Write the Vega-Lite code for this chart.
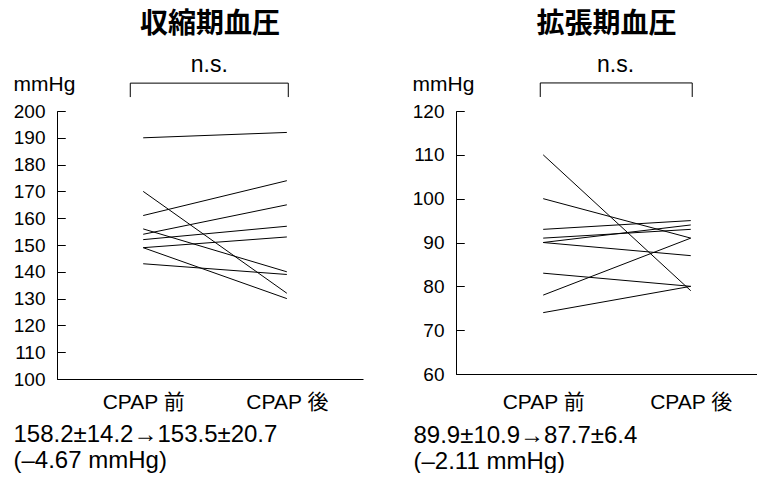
{
  "$schema": "https://vega.github.io/schema/vega-lite/v6.json",
  "background": "white",
  "padding": {"left": 13, "top": 10, "right": 0, "bottom": 0},
  "config": {
    "view": {"stroke": null},
    "font": "Liberation Sans, Noto Sans CJK JP",
    "concat": {"spacing": 49},
    "axis": {"domainColor": "black", "tickColor": "black", "labelColor": "black", "titleColor": "black", "titleFontWeight": "normal", "labelOverlap": false, "labelFont": "Liberation Sans, Noto Sans CJK JP", "titleFont": "Liberation Sans, Noto Sans CJK JP"}
  },
  "datasets": {
    "sys": [
      {"id": 1, "t": 0, "bp": 190}, {"id": 1, "t": 1, "bp": 192},
      {"id": 2, "t": 0, "bp": 170}, {"id": 2, "t": 1, "bp": 132},
      {"id": 3, "t": 0, "bp": 161}, {"id": 3, "t": 1, "bp": 174},
      {"id": 4, "t": 0, "bp": 154}, {"id": 4, "t": 1, "bp": 165},
      {"id": 5, "t": 0, "bp": 156}, {"id": 5, "t": 1, "bp": 140},
      {"id": 6, "t": 0, "bp": 152}, {"id": 6, "t": 1, "bp": 157},
      {"id": 7, "t": 0, "bp": 149}, {"id": 7, "t": 1, "bp": 153},
      {"id": 8, "t": 0, "bp": 149}, {"id": 8, "t": 1, "bp": 130},
      {"id": 9, "t": 0, "bp": 143}, {"id": 9, "t": 1, "bp": 139}
    ],
    "dia": [
      {"id": 1, "t": 0, "bp": 110}, {"id": 1, "t": 1, "bp": 79},
      {"id": 2, "t": 0, "bp": 100}, {"id": 2, "t": 1, "bp": 91},
      {"id": 3, "t": 0, "bp": 93}, {"id": 3, "t": 1, "bp": 95},
      {"id": 4, "t": 0, "bp": 91}, {"id": 4, "t": 1, "bp": 93},
      {"id": 5, "t": 0, "bp": 90}, {"id": 5, "t": 1, "bp": 94},
      {"id": 6, "t": 0, "bp": 90}, {"id": 6, "t": 1, "bp": 87},
      {"id": 7, "t": 0, "bp": 83}, {"id": 7, "t": 1, "bp": 80},
      {"id": 8, "t": 0, "bp": 78}, {"id": 8, "t": 1, "bp": 91},
      {"id": 9, "t": 0, "bp": 74}, {"id": 9, "t": 1, "bp": 80}
    ],
    "bracketSys": [
      {"t": -0.09, "t2": 1.01, "bp": 210.4, "bp2": 210.4},
      {"t": -0.09, "t2": -0.09, "bp": 210.4, "bp2": 205.2},
      {"t": 1.01, "t2": 1.01, "bp": 210.4, "bp2": 205.2}
    ],
    "bracketDia": [
      {"t": -0.02, "t2": 1.01, "bp": 126.4, "bp2": 126.4},
      {"t": -0.02, "t2": -0.02, "bp": 126.4, "bp2": 123.2},
      {"t": 1.01, "t2": 1.01, "bp": 126.4, "bp2": 123.2}
    ],
    "nsSys": [{"t": 0.46, "bp": 214.5, "label": "n.s."}],
    "nsDia": [{"t": 0.49, "bp": 128.9, "label": "n.s."}]
  },
  "hconcat": [
    {
      "width": 306,
      "height": 268,
      "title": {"text": "収縮期血圧", "font": "Noto Sans CJK JP", "fontSize": 28, "fontWeight": "bold", "color": "black", "anchor": "middle", "frame": "group", "offset": 15},
      "encoding": {
        "x": {"field": "t", "type": "quantitative", "scale": {"domain": [-0.6, 1.53], "nice": false, "zero": false},
          "axis": {"values": [0, 1], "labelExpr": "datum.value == 0 ? 'CPAP 前' : 'CPAP 後'", "ticks": false, "grid": false, "labelFontSize": 21, "labelPadding": 12, "labelFlush": false, "labelOverlap": false,
            "title": ["158.2±14.2→153.5±20.7", "(–4.67 mmHg)"], "titleFontSize": 24, "titleAlign": "left", "titleAnchor": "start", "titleBaseline": "alphabetic", "titleX": -44, "titleY": 62, "titleLineHeight": 26}},
        "y": {"field": "bp", "type": "quantitative", "scale": {"domain": [100, 200], "nice": false, "zero": false},
          "axis": {"values": [100, 110, 120, 130, 140, 150, 160, 170, 180, 190, 200], "ticks": true, "tickSize": -8, "tickWidth": 1, "grid": true, "gridColor": "black", "gridOpacity": 1, "gridWidth": 1, "gridDash": [8, 1000], "labelPadding": 20, "labelFontSize": 19, "labelOverlap": false, "labelFlush": false,
            "title": "mmHg", "titleAngle": 0, "titleAlign": "left", "titleBaseline": "alphabetic", "titleX": -44, "titleY": -21, "titleFontSize": 21}}
      },
      "layer": [
        {
          "data": {"name": "sys"},
          "mark": {"type": "line", "color": "black", "strokeWidth": 1},
          "encoding": {"detail": {"field": "id"}}
        },
        {
          "data": {"name": "bracketSys"},
          "mark": {"type": "rule", "color": "black", "strokeWidth": 1},
          "encoding": {"x2": {"field": "t2"}, "y2": {"field": "bp2"}}
        },
        {
          "data": {"name": "nsSys"},
          "mark": {"type": "text", "fontSize": 23, "baseline": "alphabetic", "align": "center", "color": "black", "font": "Liberation Sans"},
          "encoding": {"text": {"field": "label"}}
        }
      ]
    },
    {
      "width": 301,
      "height": 263,
      "title": {"text": "拡張期血圧", "font": "Noto Sans CJK JP", "fontSize": 28, "fontWeight": "bold", "color": "black", "anchor": "middle", "frame": "group", "offset": 15},
      "encoding": {
        "x": {"field": "t", "type": "quantitative", "scale": {"domain": [-0.591, 1.449], "nice": false, "zero": false},
          "axis": {"values": [0, 1], "labelExpr": "datum.value == 0 ? 'CPAP 前' : 'CPAP 後'", "ticks": false, "grid": false, "labelFontSize": 21, "labelPadding": 17, "labelFlush": false, "labelOverlap": false,
            "title": ["89.9±10.9→87.7±6.4", "(–2.11 mmHg)"], "titleFontSize": 24, "titleAlign": "left", "titleAnchor": "start", "titleBaseline": "alphabetic", "titleX": -43, "titleY": 68, "titleLineHeight": 26}},
        "y": {"field": "bp", "type": "quantitative", "scale": {"domain": [60, 120], "nice": false, "zero": false},
          "axis": {"values": [60, 70, 80, 90, 100, 110, 120], "ticks": true, "tickSize": -8, "tickWidth": 1, "grid": true, "gridColor": "black", "gridOpacity": 1, "gridWidth": 1, "gridDash": [8, 1000], "labelPadding": 20, "labelFontSize": 19, "labelOverlap": false, "labelFlush": false,
            "title": "mmHg", "titleAngle": 0, "titleAlign": "left", "titleBaseline": "alphabetic", "titleX": -44, "titleY": -21, "titleFontSize": 21}}
      },
      "layer": [
        {
          "data": {"name": "dia"},
          "mark": {"type": "line", "color": "black", "strokeWidth": 1},
          "encoding": {"detail": {"field": "id"}}
        },
        {
          "data": {"name": "bracketDia"},
          "mark": {"type": "rule", "color": "black", "strokeWidth": 1},
          "encoding": {"x2": {"field": "t2"}, "y2": {"field": "bp2"}}
        },
        {
          "data": {"name": "nsDia"},
          "mark": {"type": "text", "fontSize": 23, "baseline": "alphabetic", "align": "center", "color": "black", "font": "Liberation Sans"},
          "encoding": {"text": {"field": "label"}}
        }
      ]
    }
  ]
}
